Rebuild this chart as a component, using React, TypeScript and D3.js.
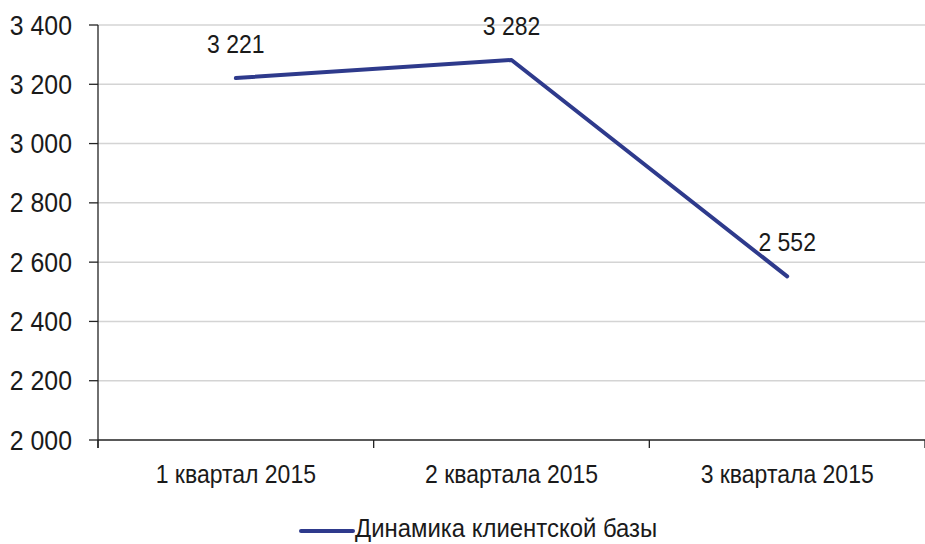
import React from 'react';
import * as d3 from 'd3';

const categories = ['1 квартал 2015', '2 квартала 2015', '3 квартала 2015'];
const values = [3221, 3282, 2552];
const yTicks = [2000, 2200, 2400, 2600, 2800, 3000, 3200, 3400];
const seriesName = 'Динамика клиентской базы';

const W = 925;
const H = 544;
const FONT = 'Arial, "Liberation Sans", sans-serif';
const SX = 0.92; // text in the reference is a bit condensed

const fmt = (v: number) => d3.format(',')(v).replace(/,/g, ' ');

function Label({ x, y, anchor, children, size = 25 }: any) {
    return (
        <g transform={`translate(${x},${y}) scale(${SX},1)`}>
            <text textAnchor={anchor} fontFamily={FONT} fontSize={size} fill="#1a1a1a">
                {children}
            </text>
        </g>
    );
}

export default function App() {
    const left = 98;
    const right = 925;
    const top = 25;
    const bottom = 440;

    const x = d3.scaleBand<string>().domain(categories).range([left, right]).padding(0);
    const y = d3.scaleLinear().domain([2000, 3400]).range([bottom, top]);

    const cx = (c: string) => (x(c) as number) + x.bandwidth() / 2;

    const line = d3.line<number>()
        .x((_, i) => cx(categories[i]))
        .y(d => y(d));

    const boundaries = [...categories.map(c => x(c) as number), right];

    return (
        <svg width={W} height={H} style={{ position: 'absolute', left: 0, top: 0, background: '#fff' }}>
            {/* gridlines */}
            {yTicks.filter(t => t !== 2000).map(t => (
                <line key={t} x1={left} x2={right} y1={y(t)} y2={y(t)} stroke="#d4d4d4" strokeWidth={1.5} />
            ))}
            {/* y axis */}
            <line x1={left} x2={left} y1={top} y2={bottom + 8} stroke="#222" strokeWidth={1.3} />
            {yTicks.map(t => (
                <g key={t}>
                    <line x1={left - 9} x2={left} y1={y(t)} y2={y(t)} stroke="#222" strokeWidth={1.3} />
                    <Label x={72} y={y(t) + 9.5} anchor="end" size={27}>{fmt(t)}</Label>
                </g>
            ))}
            {/* x axis */}
            <line x1={left} x2={right} y1={bottom} y2={bottom} stroke="#222" strokeWidth={1.3} />
            {boundaries.map((b, i) => (
                <line key={i} x1={b} x2={b} y1={bottom} y2={bottom + 8} stroke="#222" strokeWidth={1.3} />
            ))}
            {categories.map(c => (
                <Label key={c} x={cx(c)} y={483} anchor="middle">{c}</Label>
            ))}
            {/* series */}
            <path d={line(values) || ''} fill="none" stroke="#2e3a8c" strokeWidth={4} strokeLinecap="round" strokeLinejoin="round" />
            {values.map((v, i) => (
                <Label key={i} x={cx(categories[i])} y={y(v) - 25} anchor="middle">{fmt(v)}</Label>
            ))}
            {/* legend */}
            <line x1={301} x2={353} y1={531} y2={531} stroke="#2e3a8c" strokeWidth={4} strokeLinecap="round" />
            <Label x={355} y={537} anchor="start" size={26}>{seriesName}</Label>
        </svg>
    );
}
